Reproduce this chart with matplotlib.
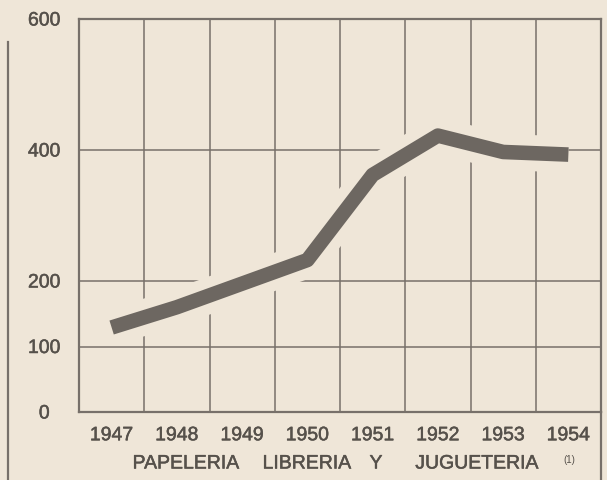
import matplotlib
matplotlib.use("Agg")
import matplotlib.pyplot as plt
import matplotlib.patheffects as pe
from matplotlib.lines import Line2D

years = [1947, 1948, 1949, 1950, 1951, 1952, 1953, 1954]
values = [129, 160, 196, 232, 362, 422, 397, 393]
ytick_vals = [0, 100, 200, 400, 600]
ytick_labels = ["0", "100", "200", "400", "600"]
xtick_labels = ["1947", "1948", "1949", "1950", "1951", "1952", "1953", "1954"]
title_words = ["PAPELERIA", "LIBRERIA", "Y", "JUGUETERIA"]
note = "(1)"

bg = "#efe6d8"
ink = "#56514b"
gridc = "#77706a"
linec = "#6d6761"
font = "Liberation Sans"
thick = [pe.withStroke(linewidth=0.35, foreground=ink)]

W, H = 607, 481
fig = plt.figure(figsize=(W / 100, H / 100), dpi=100, facecolor=bg)
ax = fig.add_axes([79 / W, 1 - 413 / H, (601 - 79) / W, (413 - 20) / H])
ax.set_facecolor(bg)

ax.set_xlim(years[0] - 0.5, years[-1] + 0.5)
ax.set_ylim(0, 600)

# grid at column boundaries and at value ticks
for xb in [y + 0.5 for y in years[:-1]]:
    ax.axvline(xb, color=gridc, lw=1.1, zorder=1)
for yv in ytick_vals[1:-1]:
    ax.axhline(yv, color=gridc, lw=1.1, zorder=1)

ax.plot(years, values, color=linec, lw=10.5, solid_capstyle="butt",
        solid_joinstyle="round", zorder=3,
        path_effects=[pe.Stroke(linewidth=26, foreground=bg, capstyle="butt"),
                      pe.Normal()])

ax.set_xticks(years)
ax.set_xticklabels(xtick_labels, fontsize=14, color=ink, family=font)
ax.set_yticks(ytick_vals)
ax.set_yticklabels(ytick_labels, fontsize=14, color=ink, family=font,
                   ha="center")
for lbl in ax.get_xticklabels() + ax.get_yticklabels():
    lbl.set_path_effects(thick)
ax.tick_params(length=0)
ax.tick_params(axis="x", pad=11)
ax.tick_params(axis="y", pad=25)

for s in ax.spines.values():
    s.set_color(gridc)
    s.set_linewidth(1.6)
    s.set_zorder(4)

word_centers = [186, 307, 376, 477]
for wtxt, cx in zip(title_words, word_centers):
    fig.text(cx / W, 1 - 465 / H, wtxt, ha="center", va="center",
             fontsize=14, color=ink, family=font, path_effects=thick)
fig.text(569 / W, 1 - 460 / H, note, ha="center", va="center",
         fontsize=7, color=ink, family=font)

# outer frame lines of the page
fig.add_artist(Line2D([8 / W, 8 / W], [1 - 43 / H, 0], color=gridc, lw=1.6))
fig.add_artist(Line2D([601 / W, 601 / W], [1 - 413 / H, 0], color=gridc, lw=1.6))

fig.savefig("out.png", dpi=100, facecolor=bg)
